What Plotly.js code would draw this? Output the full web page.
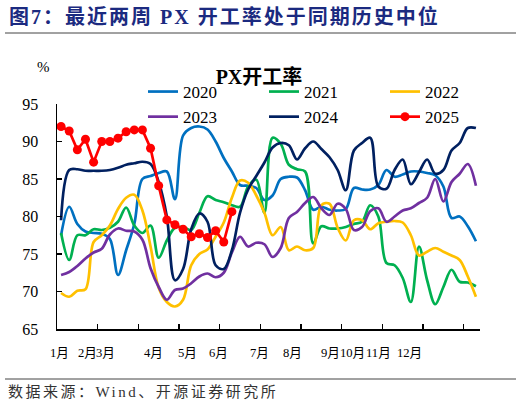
<!DOCTYPE html>
<html><head><meta charset="utf-8">
<script src="https://cdn.plot.ly/plotly-3.0.1.min.js"></script>
<style>
html,body{margin:0;padding:0;background:#fff;}
#chart{width:522px;height:408px;}
.annotation[data-index="0"] text{letter-spacing:2px;}
.annotation[data-index="1"] text{letter-spacing:2.5px;}
</style></head><body><div id="chart"></div>
<script>
const weeks = [1,2,3,4,5,6,7,8,9,10,11,12,13,14,15,16,17,18,19,20,21,22,23,24,25,26,27,28,29,30,31,32,33,34,35,36,37,38,39,40,41,42,43,44,45,46,47,48,49,50,51,52];
const s2020 = [77.5,81.3,79,78,77.8,77.7,77,72.2,75.5,79,85,85.4,85.8,86,82.3,90.8,91.8,92,91.6,90,87.8,86,84.2,84.1,83.8,82.2,82.8,85,85.3,85.2,83.5,80.9,81.3,80.9,80.8,81,83.8,83.6,83.6,84.2,86.2,85.3,85.6,86,86,85.8,85.5,84,79.8,80,78.7,76.7];
const s2021 = [77.8,74.2,77.5,77.5,78.3,78.2,78.5,79.3,81.2,78.8,77.8,78.8,74.5,76.8,78.5,78.6,78.2,80.5,82.7,82.2,81.9,81.5,81.3,84,84.9,80.5,90.5,89.7,86.9,86.3,86,76.4,78.7,78.4,78.4,78.6,79,79.3,81.5,80,73.8,73.5,71.8,68.6,76,71.5,68.3,70.6,72.9,71.3,71.2,70.7];
const s2022 = [69.8,69.3,70.1,70.3,76.6,77.5,78.8,81,82.5,82.9,80.8,76,70.5,68.6,68,68.9,73.5,75,75.6,77.3,79.2,82.5,84.8,84.5,82.8,80.5,77.5,78.6,75.5,76,75.5,75.8,81.5,81.7,78.5,76.8,79.5,79.5,78.3,79.1,79.3,79.4,79.2,77.5,74.8,75.3,75.8,75.3,74.8,74.2,72,69.3];
const s2023 = [72.2,72.6,73.4,74.4,75.2,75.7,77.6,78.4,78.1,78,76.9,73.1,70.6,68.9,70.2,70.4,71.1,72,72.4,71.9,72.5,75.2,77.3,76,76.5,76.3,74.6,75.8,79.8,80.6,81.8,82.6,81.1,80.2,81.7,81,78.2,78.6,80.7,81.1,79.3,80,80.8,81.1,81.8,82.5,85,82,84.6,85.7,87,84.1];
const s2024 = [79.5,86.2,86.3,86.1,86.1,86.1,86.2,86.5,86.9,87.1,87.3,87,84.6,80,71.5,73,78.3,80.4,79.3,73.5,73,75.5,80.5,83.6,85.4,87.2,89.2,89.8,89.5,87.6,89.1,90,89,87.9,86.2,83.5,88.8,89.8,90.5,84,83.7,86.2,87.6,84.3,85.9,87.6,85.7,86.2,88.8,89.8,91.8,91.8];
const s2025 = [92.0,91.4,88.9,90.3,87.25,90.0,90.0,90.45,91.3,91.55,91.55,89.1,84.1,79.55,78.9,78.3,77.3,77.7,77.2,78.1,76.6,80.65];
const seriesNames = ['2020','2021','2022','2023','2024','2025'];
const monthLabels = ['1月','2月','3月','4月','5月','6月','7月','8月','9月','10月','11月','12月'];
const monthPos = [0.75,4.31,6.52,12.4,16.5,20.4,25.45,29.5,34.1,36.85,40.0,43.8];
const xTicks = [5.5,10.5,15.5,20.5,25.5,30.5,35.5,40.5,45.5,50.5];
const yTicks = [65,70,75,80,85,90,95];

const colors = ['#0070C0','#00B050','#FFC000','#7030A0','#002060','#FF0000'];
const series = [s2020,s2021,s2022,s2023,s2024];
const serif = 'Liberation Serif, Times New Roman, Noto Sans CJK SC, serif';

const traces = series.map((s,k)=>({
  type:'scatter', mode:'lines', name:seriesNames[k],
  x: weeks.slice(0,s.length), y: s,
  line:{color:colors[k], width:2.7, shape:'spline', smoothing:1},
  hoverinfo:'skip'
}));
traces.push({
  type:'scatter', mode:'lines+markers', name:seriesNames[5],
  x: weeks.slice(0,s2025.length), y: s2025,
  line:{color:colors[5], width:2.7},
  marker:{color:colors[5], size:9},
  hoverinfo:'skip'
});

const L=57, R=42, T=104, B=79;
const W=522-L-R, H=408-T-B;
const px = x => (x-L)/W;
const py = y => (408-B-y)/H;

const annotations = [
  {text:'图7：最近两周 PX 开工率处于同期历史中位', xref:'paper', yref:'paper', x:px(7), y:py(17), xanchor:'left', yanchor:'middle', align:'left', showarrow:false,
   font:{family:'Liberation Serif, Noto Sans CJK SC, serif', size:20, color:'#1B2A80', weight:'bold'}},
  {text:'数据来源：Wind、开源证券研究所', xref:'paper', yref:'paper', x:px(6), y:py(392), xanchor:'left', yanchor:'middle', align:'left', showarrow:false,
   font:{family:serif, size:15, color:'#333333'}},
  {text:'%', xref:'paper', yref:'paper', x:px(43), y:py(67), xanchor:'center', yanchor:'middle', showarrow:false,
   font:{family:serif, size:15, color:'#000'}}
];
monthLabels.forEach((m,i)=>annotations.push({
  text:m, xref:'x', yref:'paper', x:monthPos[i], y:py(353), xanchor:'center', yanchor:'middle', showarrow:false,
  font:{family:serif, size:12.6, color:'#000'}
}));

const layout = {
  width:522, height:408,
  margin:{l:L, r:R, t:T, b:B, autoexpand:false},
  paper_bgcolor:'#fff', plot_bgcolor:'#fff',
  showlegend:true,
  title:{text:'PX开工率', x:259/522, xref:'container', y:1-77/408, yref:'container', xanchor:'center', yanchor:'middle',
    font:{family:'Liberation Serif, Noto Sans CJK SC, serif', size:20, color:'#000', weight:'bold'}},
  legend:{orientation:'h', x:px(143), xanchor:'left', y:py(74), yanchor:'top',
    font:{family:serif, size:17, color:'#000'}, entrywidth:76, entrywidthmode:'pixels',
    bgcolor:'rgba(0,0,0,0)', borderwidth:0, traceorder:'normal'},
  xaxis:{range:[0.5,52.5], showgrid:false, zeroline:false, showline:true, linecolor:'#000', linewidth:1.5,
    tickmode:'array', tickvals:xTicks, ticks:'inside', ticklen:5, tickcolor:'#000', tickwidth:1.2, showticklabels:false, fixedrange:true},
  yaxis:{range:[65,95], showgrid:false, zeroline:false, showline:true, linecolor:'#000', linewidth:1.5,
    tickmode:'array', tickvals:yTicks, ticks:'inside', ticklen:5, tickcolor:'#000', tickwidth:1.2, ticklabelstandoff:14,
    tickfont:{family:serif, size:16, color:'#000'}, fixedrange:true},
  shapes:[
    {type:'line', xref:'paper', yref:'paper', x0:px(5), x1:px(516), y0:py(33), y1:py(33), line:{color:'#444', width:1}},
    {type:'line', xref:'paper', yref:'paper', x0:px(5), x1:px(516), y0:py(379), y1:py(379), line:{color:'#444', width:1}}
  ],
  annotations: annotations
};
Plotly.newPlot('chart', traces, layout, {staticPlot:true, displayModeBar:false});
</script></body></html>
